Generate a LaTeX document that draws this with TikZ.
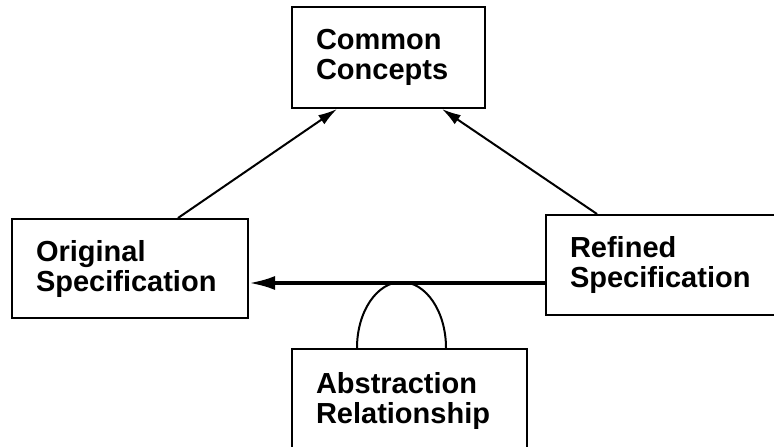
\documentclass[tikz,border=0pt]{standalone}
\usepackage{fontspec}
\newfontfamily\labelfamily{Liberation Sans}
\usetikzlibrary{arrows.meta}

\tikzset{
  box/.style={draw, line width=2pt, rectangle, align=left,
    inner xsep=24pt, inner ysep=0pt,
    font=\labelfamily\bfseries\fontsize{29}{30}\selectfont},
  link/.style={line width=2pt, -{Latex[length=19pt,width=11pt]}},
  mainlink/.style={line width=3.5pt, -{Latex[length=26pt,width=14pt]}},
  dome/.style={line width=2pt}
}

\begin{document}
\begin{tikzpicture}[x=1pt,y=-1pt]
  \useasboundingbox (0,0) rectangle (774,447);
  \clip (0,0) rectangle (774,447);

  % concept boxes
  \node[box, minimum width=193pt, minimum height=101pt, text width=145pt]
    (common) at (388.5,57.5) {Common\\Concepts};
  \node[box, minimum width=236pt, minimum height=99pt, text width=188pt]
    (orig) at (130,268.5) {Original\\Specification};
  \node[box, minimum width=244pt, minimum height=100pt, text width=196pt]
    (refined) at (668,265) {Refined\\Specification};
  \node[box, minimum width=235pt, minimum height=103pt, text width=187pt]
    (abstr) at (409.5,400.5) {Abstraction\\Relationship};

  % both specifications point to the shared concepts
  \draw[link] ([xshift=48pt]orig.north) -- ([xshift=-51.5pt]common.south);
  \draw[link] ([xshift=-71pt]refined.north) -- ([xshift=53.5pt]common.south);

  % abstraction arrow from refined to original
  \coordinate (level) at (0,283);
  \draw[mainlink] (refined.west |- level) -- (orig.east |- level);

  % dome joining the relationship box to the arrow
  \draw[dome] ([xshift=-52.5pt]abstr.north)
    arc[start angle=180, end angle=0, x radius=44.5pt, y radius=66pt];
\end{tikzpicture}
\end{document}
